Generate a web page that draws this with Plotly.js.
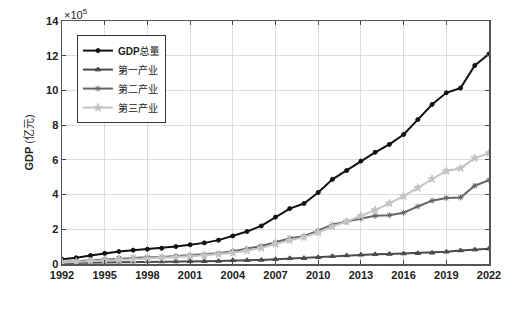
<!DOCTYPE html>
<html><head><meta charset="utf-8">
<script src="https://cdn.plot.ly/plotly-3.0.1.min.js"></script>
<style>html,body{margin:0;padding:0;background:#fff;}#chart{width:531px;height:321px;}</style>
</head><body><div id="chart"></div>
<script>
const years = [1992,1993,1994,1995,1996,1997,1998,1999,2000,2001,2002,2003,2004,2005,2006,2007,2008,2009,2010,2011,2012,2013,2014,2015,2016,2017,2018,2019,2020,2021,2022];
// 亿元
const gdpTotal = [27195,35673,48638,61340,71814,79715,85196,90564,100280,110863,121717,137422,161840,187319,219439,270092,319245,348518,412119,487940,538580,592963,643563,688858,746395,832036,919281,986515,1013567,1143670,1210207];
const primary = [5800,6887,9471,12020,13878,14265,14618,14549,14717,15502,16190,16970,20904,21806,23317,27674,32464,33584,38430,44781,49085,53028,55626,57774,60139,62100,64745,70474,77754,83086,88345];
const secondary = [11725,16455,22445,28680,33835,37543,39004,41034,45556,49512,53897,62436,73904,87365,103162,125133,148287,160172,191627,227036,244639,261951,277282,281339,295428,331581,364835,380671,383562,450904,483164];
const tertiary = [9357,11916,16180,19978,23326,26988,30580,33873,38714,44362,49899,56005,64561,77428,91760,115810,136806,154748,182061,216124,244856,277984,310654,349745,390828,438356,489701,535371,551974,609680,638698];
const seriesNames = ['<b>GDP</b>总量','第一产业','第二产业','第三产业'];
const xTicks = [1992,1995,1998,2001,2004,2007,2010,2013,2016,2019,2022];
const yTickVals = [0,200000,400000,600000,800000,1000000,1200000,1400000];
const yTickText = ['0','2','4','6','8','10','12','14'];

const FONT = 'Liberation Sans, Arial, Noto Sans CJK SC, sans-serif';
function tr(y, name, color, sym, size, w) {
  return {x: years, y: y, name: name, type: 'scatter', mode: 'lines+markers',
    line: {color: color, width: w},
    marker: {symbol: sym, size: size, color: color, line: {color: color, width: 1}}};
}
const data = [
  tr(gdpTotal, seriesNames[0], '#111111', 'circle', 4, 2),
  tr(primary, seriesNames[1], '#4a4a4a', 'triangle-up', 5, 2),
  tr(secondary, seriesNames[2], '#666666', 'asterisk-open', 5, 2),
  tr(tertiary, seriesNames[3], '#c4c4c4', 'star', 6, 2)
];
const layout = {
  width: 531, height: 321,
  margin: {l: 62, r: 42, t: 21, b: 57},
  paper_bgcolor: '#fff', plot_bgcolor: '#fff',
  font: {family: FONT, color: '#222', size: 11},
  showlegend: true,
  legend: {x: 0.035, y: 0.942, xanchor: 'left', yanchor: 'top',
    bgcolor: '#fff', bordercolor: '#333', borderwidth: 1, itemwidth: 30,
    font: {size: 10, family: FONT, color: '#222'}, tracegroupgap: 0},
  xaxis: {range: [1992, 2022], tickvals: xTicks, ticks: 'inside', ticklen: 4,
    tickcolor: '#444', showline: true, linecolor: '#555', linewidth: 1.5, mirror: 'ticks',
    showgrid: true, gridcolor: '#dcdcdc', zeroline: false,
    tickfont: {size: 11, weight: 'bold', color: '#222'}},
  yaxis: {range: [0, 1400000], tickvals: yTickVals, ticktext: yTickText, ticks: 'inside', ticklen: 4,
    tickcolor: '#444', showline: true, linecolor: '#555', linewidth: 1.5, mirror: 'ticks',
    showgrid: true, gridcolor: '#dcdcdc', zeroline: false,
    tickfont: {size: 11, weight: 'bold', color: '#222'},
    title: {text: '<b>GDP</b> (亿元)', font: {size: 11, color: '#222'}, standoff: 10}},
  annotations: [{xref: 'paper', yref: 'paper', x: 0, y: 1, xanchor: 'left', yanchor: 'bottom',
    text: '×10<sup>5</sup>', showarrow: false, font: {size: 11, color: '#222'}, yshift: -2}]
};
Plotly.newPlot('chart', data, layout, {displayModeBar: false, staticPlot: true});
</script></body></html>
